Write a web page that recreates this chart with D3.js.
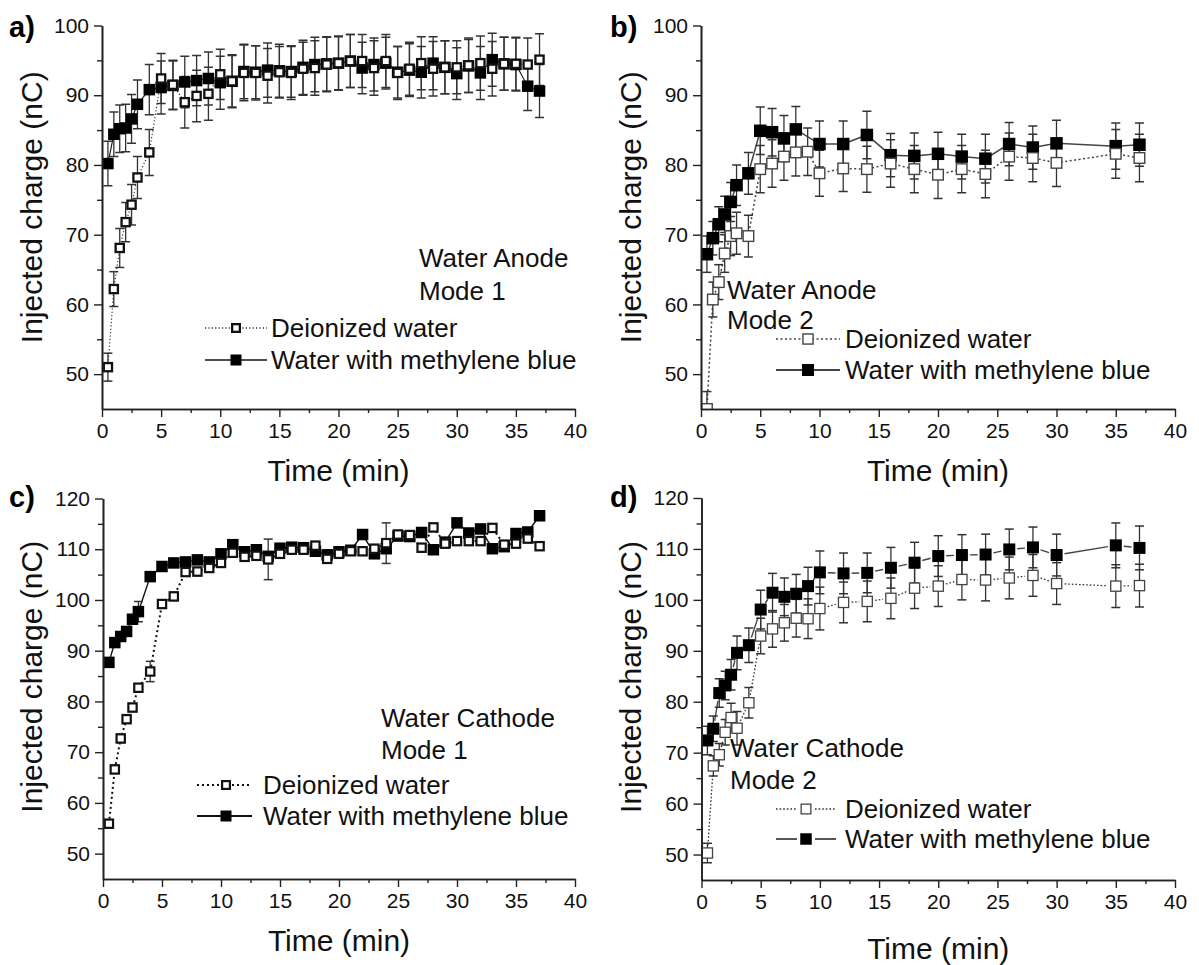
<!DOCTYPE html>
<html>
<head>
<meta charset="utf-8">
<script src="https://cdn.jsdelivr.net/npm/d3@7"></script>
<style>
  body { margin: 0; background: #fff; }
  svg { display: block; }
</style>
</head>
<body>
<svg id="chart" width="1199" height="965"></svg>
<script>
// ---------------- data (injected charge in nC vs time in min) ----------------
// a) Water anode, mode 1
const timeA = [0.5, 1, 1.5, 2, 2.5, 3, 4, 5, 6, 7, 8, 9, 10, 11, 12, 13, 14, 15, 16, 17, 18, 19, 20,
               21, 22, 23, 24, 25, 26, 27, 28, 29, 30, 31, 32, 33, 34, 35, 36, 37];
const deionA = [51.0, 62.2, 68.1, 71.8, 74.3, 78.2, 81.8, 92.4, 91.5, 89.0, 89.9, 90.2, 93.0, 92.0, 93.2,
                93.2, 92.8, 93.3, 93.2, 93.8, 93.9, 94.4, 94.6, 94.9, 94.9, 93.9, 94.9, 93.2, 93.8, 94.6,
                93.8, 94.0, 94.0, 94.3, 94.6, 93.8, 94.5, 94.5, 94.4, 95.1];
const deionErrA = [2.0, 2.5, 2.8, 2.8, 2.9, 3.0, 3.3, 3.6, 3.5, 3.7, 3.7, 3.8, 3.6, 3.8, 4.0, 3.9, 3.9,
                   3.7, 3.8, 3.8, 3.9, 3.9, 3.9, 3.8, 3.8, 3.9, 3.8, 3.8, 3.8, 3.8, 3.9, 3.8, 3.8, 3.9,
                   3.9, 3.9, 3.8, 3.8, 3.8, 3.7];
const blueA = [80.2, 84.4, 85.2, 85.3, 86.6, 88.7, 90.8, 91.1, 91.4, 91.9, 92.1, 92.4, 91.8, 92.0, 93.4,
               93.3, 93.6, 93.5, 93.4, 94.0, 94.4, 94.5, 94.6, 94.9, 93.9, 94.4, 94.6, 93.3, 93.6, 93.3,
               94.6, 94.0, 93.1, 94.2, 93.2, 95.1, 94.5, 94.4, 91.3, 90.6];
const blueErrA = [3.2, 3.2, 3.4, 3.4, 3.5, 3.5, 3.6, 3.8, 3.5, 3.7, 3.6, 3.8, 3.8, 3.7, 3.9, 3.8, 3.9,
                  3.8, 3.7, 3.9, 3.9, 3.9, 3.8, 3.8, 3.7, 3.8, 3.7, 3.7, 3.8, 3.7, 3.8, 3.8, 3.7, 3.8,
                  3.8, 3.8, 3.8, 3.8, 3.5, 3.8];

// b) Water anode, mode 2
const timeDeionB = [0.5, 1, 1.5, 2, 2.5, 3, 4, 5, 6, 7, 8, 9, 10, 12, 14, 16, 18, 20, 22, 24, 26, 28, 30, 35, 37];
const deionB = [45.0, 60.7, 63.2, 67.3, 69.8, 70.2, 69.8, 79.4, 80.2, 81.2, 81.8, 81.9, 78.8, 79.5, 79.4,
                80.2, 79.4, 78.6, 79.4, 78.7, 81.2, 81.0, 80.3, 81.6, 81.0];
const deionErrB = [2.5, 2.5, 2.5, 2.7, 2.8, 3.0, 3.0, 3.4, 3.4, 3.4, 3.4, 3.4, 3.3, 3.3, 3.3, 3.4, 3.4,
                   3.4, 3.4, 3.4, 3.4, 3.4, 3.4, 3.5, 3.4];
const timeBlueB = [0.5, 1, 1.5, 2, 2.5, 3, 4, 5, 6, 7, 8, 10, 12, 14, 16, 18, 20, 22, 24, 26, 28, 30, 35, 37];
const blueB = [67.2, 69.5, 71.5, 72.9, 74.7, 77.1, 78.8, 84.9, 84.7, 83.8, 85.1, 83.0, 83.0, 84.3, 81.4,
               81.3, 81.6, 81.2, 80.9, 83.0, 82.5, 83.1, 82.7, 82.9];
const blueErrB = [2.6, 2.4, 2.5, 2.6, 2.8, 2.9, 3.0, 3.4, 3.4, 3.3, 3.3, 3.3, 3.3, 3.4, 3.1, 3.3, 3.1,
                  3.2, 3.5, 3.1, 3.1, 3.3, 3.3, 3.1];

// c) Water cathode, mode 1
const timeC = timeA;
const deionC = [55.9, 66.6, 72.7, 76.5, 78.8, 82.7, 85.9, 99.2, 100.7, 105.5, 105.6, 106.3, 107.3, 109.3,
                108.5, 108.7, 108.0, 109.1, 109.9, 109.9, 110.7, 108.1, 109.1, 109.6, 109.6, 110.1, 111.2,
                112.9, 112.8, 110.3, 114.3, 111.1, 111.6, 111.6, 111.6, 114.2, 110.9, 111.1, 112.1, 110.6];
const deionErrC = [0.8, 0.8, 0.8, 0.8, 0.8, 0.8, 2.0, 0.8, 0.8, 0.8, 0.8, 0.8, 0.8, 0.8, 0.8, 0.8, 4.0,
                   0.8, 0.8, 0.8, 0.8, 0.8, 0.8, 0.8, 0.8, 0.8, 4.0, 0.8, 0.8, 0.8, 0.8, 0.8, 0.8, 0.8,
                   0.8, 0.8, 0.8, 0.8, 0.8, 0.8];
const blueC = [87.7, 91.6, 92.8, 93.8, 96.2, 97.7, 104.6, 106.6, 107.3, 107.5, 107.9, 107.5, 109.1, 110.9,
               109.5, 109.9, 108.6, 110.2, 110.4, 110.3, 109.6, 108.9, 109.5, 109.8, 112.9, 109.1, 110.1,
               112.6, 112.5, 113.3, 109.9, 111.4, 115.2, 113.2, 114.0, 110.1, 110.5, 113.1, 113.4, 116.6];
const blueErrC = [0.8, 0.8, 0.8, 0.8, 0.8, 2.0, 0.8, 0.8, 0.8, 0.8, 0.8, 0.8, 0.8, 0.8, 0.8, 0.8, 0.8,
                  0.8, 0.8, 0.8, 0.8, 0.8, 0.8, 0.8, 0.8, 0.8, 0.8, 0.8, 0.8, 0.8, 0.8, 0.8, 0.8, 0.8,
                  0.8, 0.8, 0.8, 0.8, 0.8, 0.8];

// d) Water cathode, mode 2
const timeD = [0.5, 1, 1.5, 2, 2.5, 3, 4, 5, 6, 7, 8, 9, 10, 12, 14, 16, 18, 20, 22, 24, 26, 28, 30, 35, 37];
const deionD = [50.3, 67.4, 69.6, 74.0, 76.9, 74.8, 79.8, 92.9, 94.3, 95.5, 96.4, 96.3, 98.3, 99.5, 99.7,
                100.3, 102.3, 102.7, 104.0, 103.9, 104.3, 104.8, 103.2, 102.7, 102.8];
const deionErrD = [1.9, 2.0, 2.2, 2.5, 2.8, 3.3, 3.0, 3.5, 3.6, 3.6, 3.7, 3.9, 4.2, 4.0, 4.0, 4.0, 4.0,
                   4.0, 4.0, 4.1, 4.1, 4.1, 4.1, 4.2, 4.2];
const blueD = [72.4, 74.7, 81.7, 83.2, 85.3, 89.6, 91.1, 98.1, 101.4, 100.6, 101.2, 102.7, 105.4, 105.2,
               105.3, 106.3, 107.3, 108.6, 108.8, 108.9, 109.9, 110.3, 108.8, 110.7, 110.2];
const blueErrD = [2.8, 2.5, 2.8, 2.8, 3.0, 3.3, 3.4, 3.8, 3.8, 3.7, 3.8, 3.7, 4.2, 4.0, 3.9, 4.0, 4.0,
                  4.0, 4.0, 4.0, 4.0, 4.0, 4.1, 4.4, 4.3];

// axis ticks and labels
const xMajor = [0, 5, 10, 15, 20, 25, 30, 35, 40];
const xMinor = [2.5, 7.5, 12.5, 17.5, 22.5, 27.5, 32.5, 37.5];
const yMajorTop = [50, 60, 70, 80, 90, 100];
const yMinorTop = [55, 65, 75, 85, 95];
const yMajorBottom = [50, 60, 70, 80, 90, 100, 110, 120];
const yMinorBottom = [55, 65, 75, 85, 95, 105, 115];
const seriesNames = ["Deionized water", "Water with methylene blue"];
const xTitle = "Time (min)";
const yTitle = "Injected charge (nC)";

// ---------------- layout and styling ----------------
const FONT = "Arial, 'Liberation Sans', Helvetica, sans-serif";
const TITLE_SIZE = 30;
const NOTE_SIZE = 26;
const svg = d3.select("#chart");

const panels = [
  {
    tag: "a)", tagPos: [9, 27],
    box: { left: 102, right: 575, top: 25.5, bottom: 409 }, yDomain: [45, 100],
    yMajor: yMajorTop, yMinor: yMinorTop, yTitleX: 31, yTitleShift: -10, xTitleDy: 61,
    notes: [["Water Anode", 419, 258], ["Mode 1", 419, 291]],
    legend: { x1: 205, x2: 267, mx: 236, tx: 271, rows: [328, 360], gap: 0 },
    open: { t: timeA, v: deionA, e: deionErrA },
    fill: { t: timeA, v: blueA, e: blueErrA },
    st: { openSize: 10.5, openStroke: 2.3, openColor: "#111", fillSize: 11.5,
          dotW: 1.2, dotDash: "1.2,2.2", dotColor: "#333", lineW: 1.1, lineColor: "#111", gap: 0 }
  },
  {
    tag: "b)", tagPos: [610, 27],
    box: { left: 701, right: 1175, top: 25.5, bottom: 409 }, yDomain: [45, 100],
    yMajor: yMajorTop, yMinor: yMinorTop, yTitleX: 630, yTitleShift: -10, xTitleDy: 61,
    notes: [["Water Anode", 727, 290], ["Mode 2", 727, 320]],
    legend: { x1: 776, x2: 840, mx: 808, tx: 845, rows: [339, 370], gap: 0 },
    open: { t: timeDeionB, v: deionB, e: deionErrB },
    fill: { t: timeBlueB, v: blueB, e: blueErrB },
    st: { openSize: 12, openStroke: 1.4, openColor: "#444", fillSize: 12.5,
          dotW: 1.5, dotDash: "2,2.5", dotColor: "#444", lineW: 1.5, lineColor: "#444", gap: 0 }
  },
  {
    tag: "c)", tagPos: [9, 497],
    box: { left: 103, right: 575, top: 498.5, bottom: 879 }, yDomain: [45, 120],
    yMajor: yMajorBottom, yMinor: yMinorBottom, yTitleX: 31, yTitleShift: -12, xTitleDy: 61,
    notes: [["Water Cathode", 381, 718], ["Mode 1", 381, 750]],
    legend: { x1: 197, x2: 252, mx: 226, tx: 263, rows: [785, 816], gap: 0 },
    open: { t: timeC, v: deionC, e: deionErrC },
    fill: { t: timeC, v: blueC, e: blueErrC },
    st: { openSize: 10.5, openStroke: 2.2, openColor: "#111", fillSize: 11.5,
          dotW: 2, dotDash: "2,3", dotColor: "#111", lineW: 1.4, lineColor: "#111", gap: 0 }
  },
  {
    tag: "d)", tagPos: [610, 497],
    box: { left: 701.5, right: 1175, top: 498, bottom: 880 }, yDomain: [45, 120],
    yMajor: yMajorBottom, yMinor: yMinorBottom, yTitleX: 630, yTitleShift: -12, xTitleDy: 68,
    notes: [["Water Cathode", 730, 748], ["Mode 2", 730, 780]],
    legend: { x1: 776, x2: 836, mx: 806, tx: 845, rows: [809, 839], gap: 9 },
    open: { t: timeD, v: deionD, e: deionErrD },
    fill: { t: timeD, v: blueD, e: blueErrD },
    st: { openSize: 11.5, openStroke: 1.3, openColor: "#444", fillSize: 12,
          dotW: 1.3, dotDash: "1.6,2", dotColor: "#333", lineW: 1.4, lineColor: "#444", gap: 8 }
  }
];

// draws a polyline through the points, optionally leaving a gap around each marker
function drawConnector(g, pts, style, gap) {
  if (!gap) {
    g.append("path")
      .attr("d", d3.line()(pts))
      .attr("fill", "none")
      .attr("stroke", style.color)
      .attr("stroke-width", style.width)
      .attr("stroke-dasharray", style.dash || null);
    return;
  }
  for (let i = 0; i < pts.length - 1; i++) {
    const [x0, y0] = pts[i], [x1, y1] = pts[i + 1];
    const len = Math.hypot(x1 - x0, y1 - y0);
    if (len <= 2 * gap + 1) continue;
    const ux = (x1 - x0) / len, uy = (y1 - y0) / len;
    g.append("line")
      .attr("x1", x0 + ux * gap).attr("y1", y0 + uy * gap)
      .attr("x2", x1 - ux * gap).attr("y2", y1 - uy * gap)
      .attr("stroke", style.color)
      .attr("stroke-width", style.width)
      .attr("stroke-dasharray", style.dash || null);
  }
}

function drawMarker(g, x, y, filled, st) {
  if (filled) {
    const s = st.fillSize;
    g.append("rect").attr("x", x - s / 2).attr("y", y - s / 2)
      .attr("width", s).attr("height", s).attr("fill", "#000");
  } else {
    const s = st.openSize - st.openStroke;
    g.append("rect").attr("x", x - s / 2).attr("y", y - s / 2)
      .attr("width", s).attr("height", s).attr("fill", "#fff")
      .attr("stroke", st.openColor).attr("stroke-width", st.openStroke);
  }
}

panels.forEach((p, idx) => {
  const b = p.box, st = p.st;
  const g = svg.append("g");
  const x = d3.scaleLinear().domain([0, 40]).range([b.left, b.right]);
  const y = d3.scaleLinear().domain(p.yDomain).range([b.bottom, b.top]);

  const clipId = "clip" + idx;
  svg.append("defs").append("clipPath").attr("id", clipId)
    .append("rect").attr("x", b.left).attr("y", b.top - 20)
    .attr("width", b.right - b.left + 20).attr("height", b.bottom - b.top + 20);
  const plot = g.append("g").attr("clip-path", `url(#${clipId})`);

  const openPts = p.open.t.map((t, i) => [x(t), y(p.open.v[i])]);
  const fillPts = p.fill.t.map((t, i) => [x(t), y(p.fill.v[i])]);

  // connecting lines
  drawConnector(plot, fillPts, { color: st.lineColor, width: st.lineW }, st.gap);
  drawConnector(plot, openPts, { color: st.dotColor, width: st.dotW, dash: st.dotDash }, st.gap);

  // error bars
  const cap = 4.5;
  [p.fill, p.open].forEach(s => {
    s.t.forEach((t, i) => {
      const cx = x(t), yt = y(s.v[i] + s.e[i]), yb = y(s.v[i] - s.e[i]);
      plot.append("line").attr("x1", cx).attr("x2", cx).attr("y1", yt).attr("y2", yb)
        .attr("stroke", "#333").attr("stroke-width", 1.3);
      [yt, yb].forEach(yy => plot.append("line")
        .attr("x1", cx - cap).attr("x2", cx + cap).attr("y1", yy).attr("y2", yy)
        .attr("stroke", "#333").attr("stroke-width", 1.5));
    });
  });

  // markers
  fillPts.forEach(([px, py]) => drawMarker(plot, px, py, true, st));
  openPts.forEach(([px, py]) => drawMarker(plot, px, py, false, st));

  // axes
  const axisStyle = sel => {
    sel.selectAll("path.domain").attr("stroke", "#222").attr("stroke-width", 1.6);
    sel.selectAll(".tick line").attr("stroke", "#222").attr("stroke-width", 1.4);
    sel.selectAll("text").attr("font-family", FONT).attr("font-size", 21).attr("fill", "#111");
  };
  g.append("g").attr("transform", `translate(0,${b.bottom})`)
    .call(d3.axisBottom(x).tickValues(xMinor).tickSize(4).tickFormat("").tickSizeOuter(0))
    .call(axisStyle);
  g.append("g").attr("transform", `translate(0,${b.bottom})`)
    .call(d3.axisBottom(x).tickValues(xMajor).tickSize(8).tickPadding(6).tickSizeOuter(0)
      .tickFormat(d3.format("d")))
    .call(axisStyle);
  g.append("g").attr("transform", `translate(${b.left},0)`)
    .call(d3.axisLeft(y).tickValues(p.yMinor).tickSize(5).tickFormat("").tickSizeOuter(0))
    .call(axisStyle);
  g.append("g").attr("transform", `translate(${b.left},0)`)
    .call(d3.axisLeft(y).tickValues(p.yMajor).tickSize(8).tickPadding(5).tickSizeOuter(0)
      .tickFormat(d3.format("d")))
    .call(axisStyle);

  // axis titles
  g.append("text")
    .attr("x", (b.left + b.right) / 2).attr("y", b.bottom + p.xTitleDy)
    .attr("text-anchor", "middle").attr("dominant-baseline", "central")
    .attr("font-family", FONT).attr("font-size", TITLE_SIZE).attr("fill", "#111")
    .text(xTitle);
  g.append("text")
    .attr("transform", `translate(${p.yTitleX},${(b.top + b.bottom) / 2 + p.yTitleShift}) rotate(-90)`)
    .attr("text-anchor", "middle").attr("dominant-baseline", "central")
    .attr("font-family", FONT).attr("font-size", TITLE_SIZE).attr("fill", "#111")
    .text(yTitle);

  // panel tag
  g.append("text")
    .attr("x", p.tagPos[0]).attr("y", p.tagPos[1])
    .attr("dominant-baseline", "central")
    .attr("font-family", FONT).attr("font-size", 29).attr("font-weight", "bold").attr("fill", "#000")
    .text(p.tag);

  // annotations
  p.notes.forEach(([txt, tx, ty]) => g.append("text")
    .attr("x", tx).attr("y", ty).attr("dominant-baseline", "central")
    .attr("font-family", FONT).attr("font-size", NOTE_SIZE).attr("fill", "#111").text(txt));

  // legend
  const L = p.legend;
  const lg = g.append("g");
  [[false, { color: st.dotColor, width: st.dotW, dash: st.dotDash }],
   [true, { color: st.lineColor, width: st.lineW }]].forEach(([filled, ls], i) => {
    const ly = L.rows[i];
    const segs = L.gap
      ? [[L.x1, L.mx - L.gap], [L.mx + L.gap, L.x2]]
      : [[L.x1, L.x2]];
    segs.forEach(([a, c]) => lg.append("line")
      .attr("x1", a).attr("x2", c).attr("y1", ly).attr("y2", ly)
      .attr("stroke", ls.color).attr("stroke-width", ls.width + (filled ? 0.4 : 0.2))
      .attr("stroke-dasharray", ls.dash || null));
    drawMarker(lg, L.mx, ly, filled, { ...st, openSize: st.openSize - 0.5, fillSize: st.fillSize - 0.5 });
    lg.append("text").attr("x", L.tx).attr("y", ly).attr("dominant-baseline", "central")
      .attr("font-family", FONT).attr("font-size", NOTE_SIZE).attr("fill", "#111")
      .text(seriesNames[i]);
  });
});
</script>
</body>
</html>
